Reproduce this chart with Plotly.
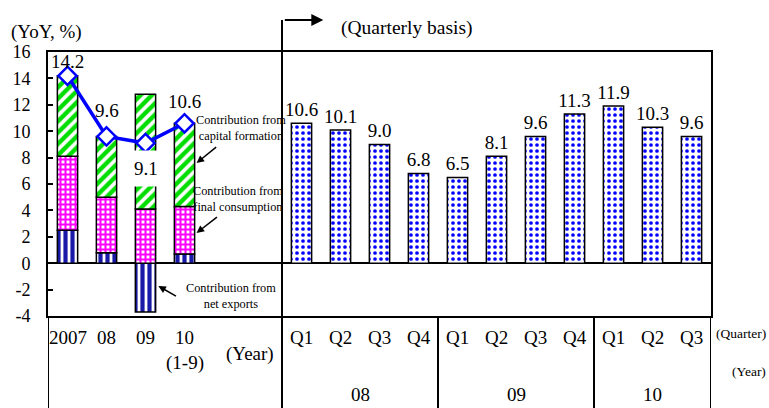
import plotly.graph_objects as go

# Annual contributions to real GDP growth (percentage points)
years = ["2007", "08", "09", "10"]
year_sub = ["", "", "", "(1-9)"]
net_exports = [2.5, 0.8, -3.7, 0.7]
final_consumption = [5.6, 4.2, 4.1, 3.6]
capital_formation = [6.1, 4.6, 8.7, 6.3]
gdp_growth = [14.2, 9.6, 9.1, 10.6]

# Quarterly real GDP growth (YoY, %)
quarters = ["Q1", "Q2", "Q3", "Q4", "Q1", "Q2", "Q3", "Q4", "Q1", "Q2", "Q3"]
quarter_years = ["08", "09", "10"]
quarterly_growth = [10.6, 10.1, 9.0, 6.8, 6.5, 8.1, 9.6, 11.3, 11.9, 10.3, 9.6]

y_ticks = [-4, -2, 0, 2, 4, 6, 8, 10, 12, 14, 16]

FONT = "Liberation Serif, Times New Roman, serif"

x_year = list(range(len(years)))
x_q = [6 + i for i in range(len(quarters))]

fig = go.Figure()

outline = dict(color="black", width=1.5)
fig.add_trace(go.Bar(
    x=x_year, y=net_exports, width=0.52, name="Net exports",
    marker=dict(color="white", line=outline,
                pattern=dict(shape="|", fgcolor="#1a1aa8", bgcolor="white",
                             size=7, solidity=0.6, fgopacity=1)),
))
fig.add_trace(go.Bar(
    x=x_year, y=final_consumption, width=0.52, name="Final consumption",
    marker=dict(color="white", line=outline,
                pattern=dict(shape="+", fgcolor="#ff00ff", bgcolor="white",
                             size=5, solidity=0.65, fgopacity=1)),
))
fig.add_trace(go.Bar(
    x=x_year, y=capital_formation, width=0.52, name="Capital formation",
    marker=dict(color="white", line=outline,
                pattern=dict(shape="/", fgcolor="#00dd00", bgcolor="white",
                             size=8, solidity=0.55, fgopacity=1)),
))
fig.add_trace(go.Bar(
    x=x_q, y=quarterly_growth, width=0.52, name="Quarterly",
    marker=dict(color="white", line=outline,
                pattern=dict(shape=".", fgcolor="#0000ff", bgcolor="white",
                             size=6, solidity=0.3, fgopacity=1)),
    text=[f"{v:.1f}" for v in quarterly_growth], textposition="outside",
    constraintext="none",
    textfont=dict(family=FONT, size=19, color="black"), cliponaxis=False,
))
fig.add_trace(go.Scatter(
    x=x_year, y=gdp_growth, mode="lines+markers", name="GDP",
    line=dict(color="#0000ff", width=3.5),
    marker=dict(symbol="diamond", size=14, color="white",
                line=dict(color="#0000ff", width=2.5)),
))

big = dict(family=FONT, size=19, color="black")
small = dict(family=FONT, size=12.3, color="black")
side = dict(family=FONT, size=13.5, color="black")

ann = []
# growth labels on the annual line
label_shift = [14, 26, -25, 22]
for i, v in enumerate(gdp_growth):
    a = dict(x=x_year[i], y=v, text=f"{v:.1f}", showarrow=False,
             yshift=label_shift[i], yanchor="middle", font=big)
    if label_shift[i] < 0:
        a.update(bgcolor="white", borderpad=7)
    ann.append(a)

# callouts for the contribution components
ann += [
    dict(x=4.46, y=(263.2 - 128) / 13.2, text="Contribution from<br>capital formation",
         showarrow=False, font=small, yanchor="middle"),
    dict(x=4.37, y=(263.2 - 199) / 13.2, text="Contribution from<br>final consumption",
         showarrow=False, font=small, yanchor="middle"),
    dict(x=4.18, y=(263.2 - 296) / 13.2, text="Contribution from<br>net exports",
         showarrow=False, font=small, yanchor="middle"),
]
for (hx, hy, tx, ty) in [(3.31, 7.59, 3.85, 8.88), (3.31, 2.29, 3.87, 3.58),
                         (2.33, -1.73, 2.82, -2.56)]:
    ann.append(dict(x=hx, y=hy, ax=tx, ay=ty, axref="x", ayref="y", text="",
                    showarrow=True, arrowhead=2, arrowsize=1, arrowwidth=1.5,
                    arrowcolor="black"))


def label(x, y, text, font, xref="x", xanchor="center"):
    return dict(x=x, y=y, xref=xref, yref="paper", text=text, showarrow=False,
                font=font, xanchor=xanchor, yanchor="middle")


# category table under the plot
for i, lab in enumerate(years):
    ann.append(label(x_year[i], -0.083, lab, big))
    if year_sub[i]:
        ann.append(label(x_year[i], -0.178, year_sub[i], big))
ann.append(label(4.69, -0.144, "(Year)", big))
for i, lab in enumerate(quarters):
    ann.append(label(x_q[i], -0.083, lab, big))
for xc, lab in zip([7.5, 11.5, 15.0], quarter_years):
    ann.append(label(xc, -0.299, lab, big))
ann.append(label(1.086, -0.068, "(Quarter)", side, xref="paper", xanchor="right"))
ann.append(label(1.086, -0.212, "(Year)", side, xref="paper", xanchor="right"))

# headings
ann.append(label(-0.0588, 1.076, "(YoY, %)", big, xref="paper", xanchor="left"))
ann.append(label(8.70, 1.091, "(Quarterly basis)", dict(big, size=19.5)))
ann.append(dict(x=6.56, y=1.121, yref="paper", ax=-40, ay=0, text="",
                showarrow=True, arrowhead=2, arrowsize=1.2, arrowwidth=2,
                arrowcolor="black"))

line = dict(color="black", width=2)
shapes = [
    dict(type="line", xref="x", yref="paper", x0=5.5, x1=5.5, y0=-0.35, y1=1.121, line=line),
    dict(type="line", xref="x", yref="paper", x0=9.5, x1=9.5, y0=-0.35, y1=0, line=line),
    dict(type="line", xref="x", yref="paper", x0=13.5, x1=13.5, y0=-0.35, y1=0, line=line),
    dict(type="line", xref="x", yref="paper", x0=-0.5, x1=-0.5, y0=-0.35, y1=0, line=line),
    dict(type="line", xref="x", yref="paper", x0=16.5, x1=16.5, y0=-0.35, y1=0, line=line),
]

fig.update_layout(
    width=769, height=408,
    margin=dict(l=48, r=58, t=52, b=92),
    paper_bgcolor="white", plot_bgcolor="white",
    barmode="relative", showlegend=False,
    annotations=ann, shapes=shapes,
    xaxis=dict(range=[-0.5, 16.5], showticklabels=False, ticks="", showgrid=False,
               zeroline=False, showline=True, linecolor="black", linewidth=2, mirror=True),
    yaxis=dict(range=[-4, 16], tickvals=y_ticks, ticktext=[str(t) for t in y_ticks],
               ticks="inside", ticklen=5,
               tickcolor="black", tickwidth=1.5, showgrid=False,
               zeroline=True, zerolinecolor="black", zerolinewidth=1.5,
               showline=True, linecolor="black", linewidth=2, mirror=True,
               tickfont=dict(family=FONT, size=18, color="black"), ticklabelstandoff=12),
)

fig.write_html("out.html")
